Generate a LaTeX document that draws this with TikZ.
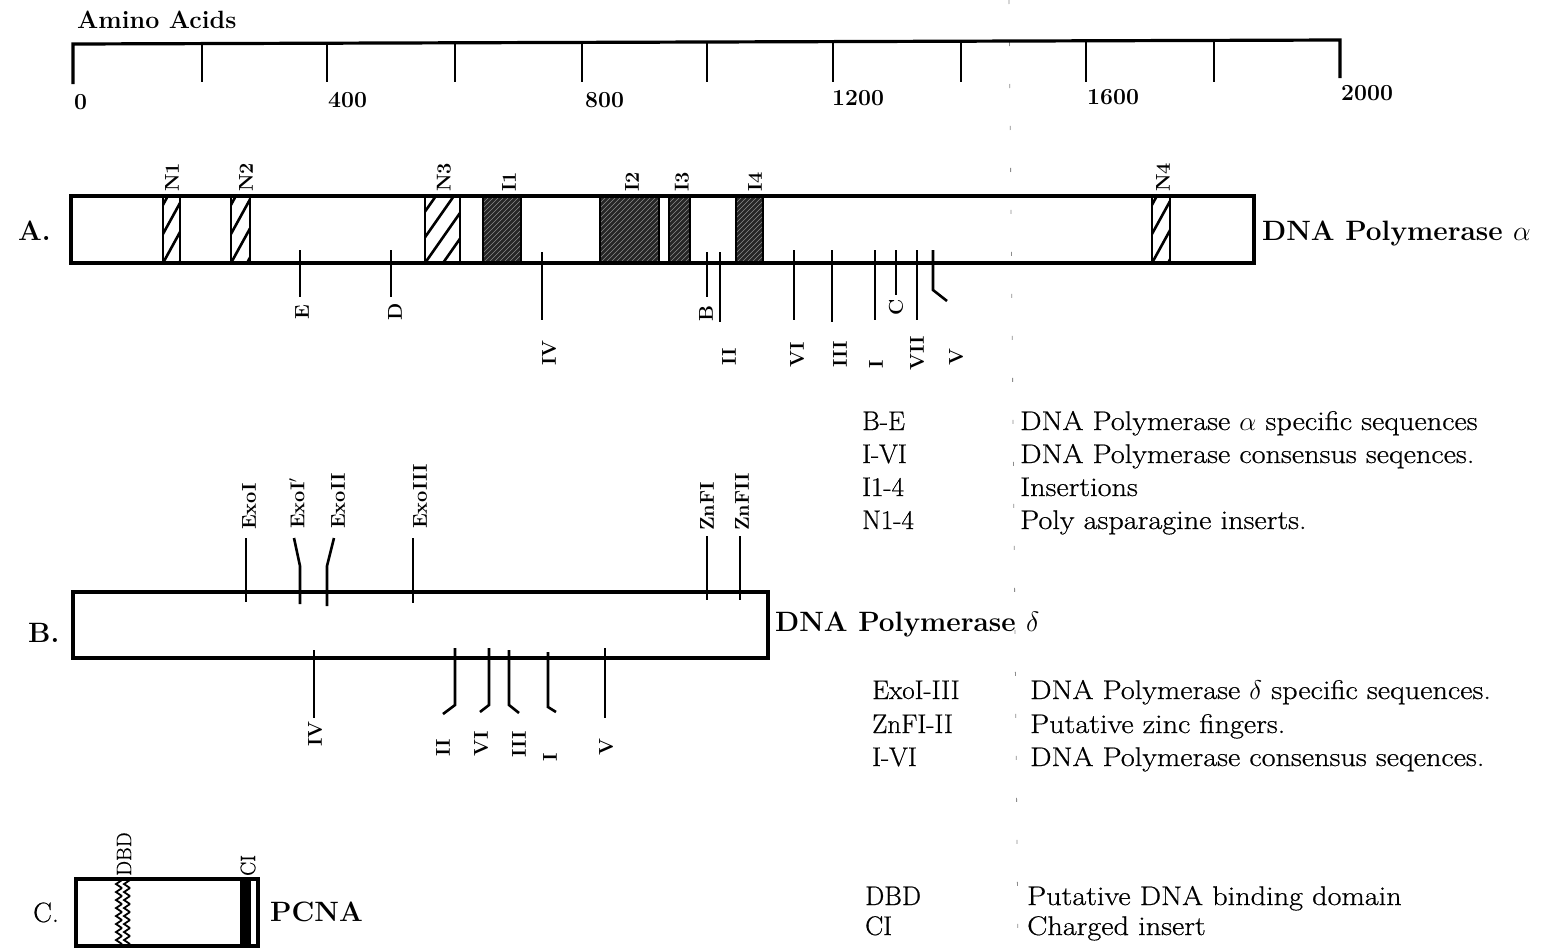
\RequirePackage{fix-cm}
\documentclass[tikz,border=0pt]{standalone}
\usepackage{fontspec}
\newfontfamily\legfont{Latin Modern Roman}[FakeBold=0.6]
\newfontfamily\descfont{Latin Modern Roman}[FakeBold=0.6, FakeStretch=1.12]
\newcommand\nhatch[6]{% x1 x2 y1 y2 step slope
  \begin{scope}
    \clip (#1,#3) rectangle (#2,#4);
    \foreach \k in {-7,...,5}
      \draw[line width=2.6pt] ({#1+\k*#5},#4) -- ({#1+\k*#5+#6*(#4-#3)},#3);
  \end{scope}
  \draw[line width=2.4pt] (#1,#3) rectangle (#2,#4);}
\newcommand\dhatch[4]{% x1 x2 y1 y2
  \fill[black!85] (#1,#3) rectangle (#2,#4);
  \begin{scope}
    \clip (#1,#3) rectangle (#2,#4);
    \foreach \k in {-16,...,14}
      \draw[black!45, line width=0.5pt] ({#1+\k*5},#4) -- ({#1+\k*5+(#4-#3)},#3);
  \end{scope}
  \draw[line width=2.4pt] (#1,#3) rectangle (#2,#4);}
\begin{document}
\begin{tikzpicture}[x=1pt,y=-1pt,
  frame/.style={line width=3.2pt},
  tickline/.style={line width=2.6pt},
  lbl/.style={font=\fontsize{20}{20}\selectfont\bfseries, rotate=90, inner sep=0pt, anchor=west},
  lbln/.style={font=\fontsize{21}{21}\selectfont\legfont, rotate=90, inner sep=0pt, anchor=west},
  num/.style={font=\fontsize{23}{23}\selectfont\bfseries, inner sep=0pt, anchor=base west},
  title/.style={font=\fontsize{28}{28}\selectfont\bfseries, inner sep=0pt, anchor=base west},
  leg/.style={font=\fontsize{27}{27}\selectfont\legfont, inner sep=0pt, anchor=base west},
  desc/.style={font=\fontsize{27}{27}\selectfont\descfont, inner sep=0pt, anchor=base west},
]
\useasboundingbox (0,0) rectangle (1550,948);
\fill[white] (0,0) rectangle (1550,948);
% fold line
\draw[black!45, line width=0.8pt, dash pattern=on 4pt off 38pt] (1009,0) -- (1018,948);

% ---- scale ----
\node[title, font=\fontsize{25}{25}\selectfont\bfseries] (aa) at (77,28) {Amino Acids};
\draw[frame] (73,84) -- (73,44) -- (1340,40) -- (1340,78);
\foreach \x in {202,327,455,582,707,833,961,1086,1214}
  \draw[tickline] (\x,42) -- (\x,82);
\node[num] (s0) at (74,109) {0};
\node[num] (s400) at (328,107) {400};
\node[num] (s800) at (585,107) {800};
\node[num] (s1200) at (832,105) {1200};
\node[num] (s1600) at (1087,104) {1600};
\node[num] (s2000) at (1341,100) {2000};

% ---- A ----
\nhatch{163}{180}{196}{263}{16}{0.55}
\nhatch{231}{250}{196}{263}{16}{0.55}
\nhatch{425}{460}{196}{263}{18}{0.7}
\nhatch{1152}{1170}{196}{263}{16}{0.55}
\dhatch{483}{521}{196}{263}
\dhatch{600}{659}{196}{263}
\dhatch{669}{690}{196}{263}
\dhatch{736}{763}{196}{263}
\draw[frame] (71,196) rectangle (1254,263);
\node[title] (la) at (18,240) {A.};
\node[title] (pa) at (1262,240) {DNA Polymerase $\alpha$};
\node[lbl] (tn1) at (172,192) {N1};
\node[lbl] (tn2) at (246,192) {N2};
\node[lbl] (tn3) at (444,192) {N3};
\node[lbl] (ti1) at (509,192) {I1};
\node[lbl] (ti2) at (632,192) {I2};
\node[lbl] (ti3) at (682,192) {I3};
\node[lbl] (ti4) at (755,192) {I4};
\node[lbl] (tn4) at (1163,192) {N4};
% markers below A
\draw[tickline] (300,250) -- (300,297);
\draw[tickline] (391,250) -- (391,297);
\draw[tickline] (542,252) -- (542,320);
\draw[tickline] (707,252) -- (707,297);
\draw[tickline] (720,252) -- (720,322);
\draw[tickline] (794,250) -- (794,320);
\draw[tickline] (832,250) -- (832,322);
\draw[tickline] (875,250) -- (875,320);
\draw[tickline] (896,250) -- (896,295);
\draw[tickline] (917,250) -- (917,320);
\draw[tickline] (933,250) -- (933,290) -- (947,301);
\node[lbl] (ae) at (302,320) {E};
\node[lbl] (ad) at (395,321) {D};
\node[lbl] (ab) at (706,322) {B};
\node[lbl] (ac) at (896,316) {C};
\node[lbl] (aiv) at (549,366) {IV};
\node[lbl] (aii) at (729,366) {II};
\node[lbl] (avi) at (797,368) {VI};
\node[lbl] (aiii) at (840,368) {III};
\node[lbl] (ai) at (876,369) {I};
\node[lbl] (avii) at (917,371) {VII};
\node[lbl] (av) at (956,366) {V};

% legend A
\node[leg] (l1a) at (862,430) {B-E};
\node[desc] (l1b) at (1020,430) {DNA Polymerase $\alpha$ specific sequences};
\node[leg] (l2a) at (862,463) {I-VI};
\node[desc] (l2b) at (1020,463) {DNA Polymerase consensus seqences.};
\node[leg] (l3a) at (862,496) {I1-4};
\node[desc] (l3b) at (1020,496) {Insertions};
\node[leg] (l4a) at (862,529) {N1-4};
\node[desc] (l4b) at (1020,529) {Poly asparagine inserts.};

% ---- B ----
\draw[frame] (73,592) rectangle (768,658);
\node[title] (lb) at (28,642) {B.};
\node[title] (pb) at (775,631) {DNA Polymerase $\delta$};
\draw[tickline] (246,538) -- (246,602);
\draw[tickline] (294,538) -- (300,566) -- (300,604);
\draw[tickline] (334,538) -- (327,566) -- (327,606);
\draw[tickline] (413,538) -- (413,603);
\draw[tickline] (707,536) -- (707,600);
\draw[tickline] (740,536) -- (740,600);
\node[lbl] (bx1) at (249,530) {ExoI};
\node[lbl] (bx1p) at (297,529) {ExoI$'$};
\node[lbl] (bx2) at (338,529) {ExoII};
\node[lbl] (bx3) at (420,529) {ExoIII};
\node[lbl] (bz1) at (707,531) {ZnFI};
\node[lbl] (bz2) at (742,531) {ZnFII};
\draw[tickline] (314,650) -- (314,718);
\draw[tickline] (455,648) -- (455,705) -- (443,714);
\draw[tickline] (489,648) -- (489,705) -- (480,712);
\draw[tickline] (509,650) -- (509,705) -- (519,713);
\draw[tickline] (548,652) -- (548,707) -- (556,712);
\draw[tickline] (605,648) -- (605,718);
\node[lbl] (biv) at (315,747) {IV};
\node[lbl] (bii) at (443,757) {II};
\node[lbl] (bvi) at (481,757) {VI};
\node[lbl] (biii) at (519,758) {III};
\node[lbl] (bi) at (550,762) {I};
\node[lbl] (bv) at (606,756) {V};

% legend B
\node[leg] (m1a) at (872,699) {ExoI-III};
\node[desc] (m1b) at (1030,699) {DNA Polymerase $\delta$ specific sequences.};
\node[leg] (m2a) at (872,733) {ZnFI-II};
\node[desc] (m2b) at (1030,733) {Putative zinc fingers.};
\node[leg] (m3a) at (872,766) {I-VI};
\node[desc] (m3b) at (1030,766) {DNA Polymerase consensus seqences.};

% ---- C ----
\foreach \y in {880,888,...,940} {
  \draw[line width=1.8pt] (122,\y) -- (116,\y+4) -- (122,\y+8);
  \draw[line width=1.8pt] (130,\y) -- (124,\y+4) -- (130,\y+8);
}
\fill[black] (240,879) rectangle (251,946);
\draw[frame] (76,879) rectangle (258,946);
\node[leg, font=\fontsize{28}{28}\selectfont\legfont] (lc) at (33,922) {C.};
\node[title] (pc) at (270,921) {PCNA};
\node[lbln] (cdbd) at (124,876) {DBD};
\node[lbln] (cci) at (248,876) {CI};

% legend C
\node[leg] (n1a) at (865,905) {DBD};
\node[desc] (n1b) at (1027,905) {Putative DNA binding domain};
\node[leg] (n2a) at (865,935) {CI};
\node[desc] (n2b) at (1027,935) {Charged insert};
\end{tikzpicture}
\end{document}
